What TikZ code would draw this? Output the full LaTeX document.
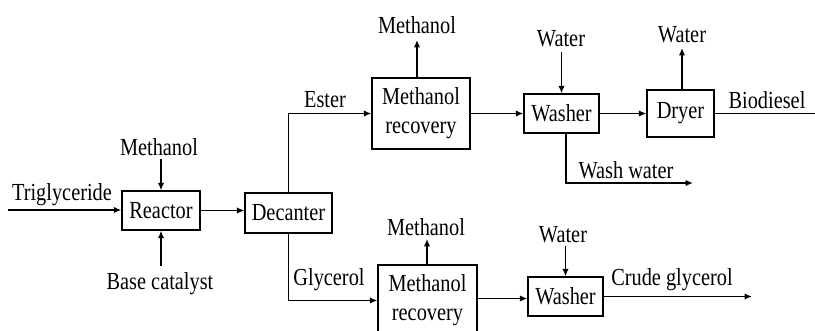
\documentclass[tikz,border=0pt]{standalone}
\usepackage{fontspec}
\setmainfont[FakeStretch=0.83]{Liberation Serif}
\usetikzlibrary{arrows.meta,calc}
\begin{document}
\begin{tikzpicture}[x=1pt,y=-1pt,
  box/.style={draw, line width=1.4pt, inner sep=0pt, align=center, font=\fontsize{24.5}{29}\selectfont},
  lbl/.style={inner sep=1pt, font=\fontsize{24.5}{29}\selectfont},
  flow/.style={line width=1.4pt, -{Latex[length=7.5pt,width=6.5pt]}},
  plain/.style={line width=1.4pt}]
\useasboundingbox (0,0) rectangle (815,331);
% boxes
\node[box, minimum width=78, minimum height=39] (reactor) at (161,210.5) {Reactor};
\node[box, minimum width=87, minimum height=40] (decanter) at (288.5,213) {Decanter};
\node[box, minimum width=98, minimum height=71] (mr1) at (421,113.5) {Methanol\\recovery};
\node[box, minimum width=75, minimum height=39] (wash1) at (561.5,113.5) {Washer};
\node[box, minimum width=67, minimum height=47] (dryer) at (680.5,113.5) {Dryer};
\node[box, minimum width=99, minimum height=71] (mr2) at (427.5,300.5) {Methanol\\recovery};
\node[box, minimum width=75, minimum height=39] (wash2) at (565.5,296.5) {Washer};
% labels
\node[lbl] (trig) at (62,195) {Triglyceride};
\node[lbl] (meth0) at (159,147) {Methanol};
\node[lbl] (base) at (160,284) {Base catalyst};
\node[lbl] (ester) at (325,100) {Ester};
\node[lbl] (meth1) at (417,25) {Methanol};
\node[lbl] (water1) at (561,39) {Water};
\node[lbl] (water2) at (682,35) {Water};
\node[lbl] (bio) at (767,100) {Biodiesel};
\node[lbl] (washw) at (626,170) {Wash water};
\node[lbl] (meth2) at (426,227) {Methanol};
\node[lbl] (glyc) at (329,280) {Glycerol};
\node[lbl] (water3) at (563,235) {Water};
\node[lbl] (crude) at (672,280) {Crude glycerol};
% free ends
\coordinate (trigStart) at (8,210);
\coordinate (bioEnd) at (815,112);
\coordinate (wwCorner) at (566,183);
\coordinate (wwEnd) at (693,183);
\coordinate (crudeEnd) at (752,297);
\coordinate (m1top) at (417,40);
\coordinate (w2top) at (682,48);
\coordinate (m2top) at (427,239);
% connectors
\draw[flow] (trigStart) -- (trigStart -| reactor.west);
\draw[flow] (meth0.south -| reactor.north) ++(0,2) -- (reactor.north);
\draw[flow] (base.north -| reactor.south) ++(0,-6) -- (reactor.south);
\draw[flow] (reactor.east) -- (reactor.east -| decanter.west);
\draw[flow] (decanter.north) |- (mr1.west);
\draw[flow] (decanter.south) |- (mr2.west);
\draw[flow] (mr1.north -| m1top) -- (m1top);
\draw[flow] (mr1.east) -- (wash1.west);
\draw[flow] (water1.south -| wash1.north) ++(0,4) -- (wash1.north);
\draw[flow] (wash1.east) -- (dryer.west);
\draw[flow] (dryer.north -| w2top) -- (w2top);
\draw[plain] (dryer.east) -- (dryer.east -| bioEnd);
\draw[flow] (wash1.south -| wwCorner) -- (wwCorner) -- (wwEnd);
\draw[flow] (mr2.north -| m2top) -- (m2top);
\draw[flow] (mr2.east |- wash2.west) ++(0,2) -- ($(wash2.west)+(0,2)$);
\draw[flow] (water3.south -| wash2.north) ++(0,2) -- (wash2.north);
\draw[flow] (wash2.east) -- (wash2.east -| crudeEnd);
\end{tikzpicture}
\end{document}
